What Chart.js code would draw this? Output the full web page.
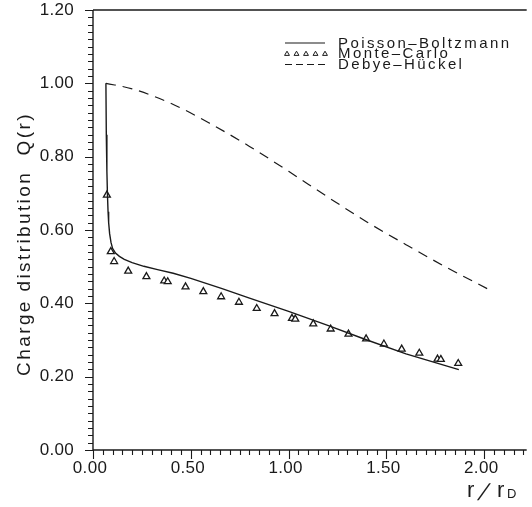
<!DOCTYPE html>
<html>
<head>
<meta charset="utf-8">
<title>Charge distribution Q(r)</title>
<script src="https://cdn.jsdelivr.net/npm/chart.js@4.4.1/dist/chart.umd.min.js"></script>
<style>
  html, body { margin: 0; padding: 0; background: #fff; overflow: hidden; }
  canvas { display: block; }
</style>
</head>
<body>
<canvas id="chart" width="532" height="507"></canvas>
<script>
// ---- data ----
const seriesNames = ['Poisson–Boltzmann', 'Monte–Carlo', 'Debye–Hückel'];

// Poisson-Boltzmann (solid line)
const pbR = [0.066, 0.068, 0.071, 0.074, 0.077, 0.080, 0.085, 0.092, 0.100, 0.115, 0.135, 0.160, 0.200, 0.260, 0.330, 0.410, 0.500, 0.660, 0.800, 1.000, 1.200, 1.390, 1.600, 1.870];
const pbQ = [1.000, 0.860, 0.760, 0.695, 0.650, 0.620, 0.590, 0.566, 0.550, 0.537, 0.528, 0.520, 0.511, 0.501, 0.492, 0.482, 0.468, 0.440, 0.414, 0.378, 0.340, 0.302, 0.262, 0.219];

// Monte-Carlo (triangles)
const mcR = [0.071, 0.091, 0.108, 0.180, 0.273, 0.364, 0.382, 0.473, 0.564, 0.655, 0.746, 0.837, 0.928, 1.017, 1.034, 1.126, 1.215, 1.306, 1.396, 1.487, 1.578, 1.668, 1.761, 1.778, 1.867];
const mcQ = [0.695, 0.541, 0.514, 0.488, 0.473, 0.461, 0.459, 0.445, 0.432, 0.418, 0.403, 0.386, 0.372, 0.359, 0.357, 0.344, 0.330, 0.316, 0.303, 0.289, 0.275, 0.264, 0.248, 0.247, 0.236];

// Debye-Hückel (dashed line)
const dhR = [0.066, 0.200, 0.400, 0.600, 0.800, 1.000, 1.200, 1.400, 1.600, 1.800, 2.030];
const dhQ = [1.000, 0.985, 0.945, 0.890, 0.828, 0.760, 0.690, 0.622, 0.560, 0.500, 0.436];

// axis ticks
const xTickLabels = ['0.00', '0.50', '1.00', '1.50', '2.00'];
const yTickLabels = ['0.00', '0.20', '0.40', '0.60', '0.80', '1.00', '1.20'];
const xMinorStep = 0.05;
const yMinorStep = 0.02;

const ink = '#1a1a1a';
const fontFamily = '"Liberation Sans", Arial, sans-serif';

function toPoints(xs, ys) {
    return xs.map((x, i) => ({ x: x, y: ys[i] }));
}

// white background
const bgPlugin = {
    id: 'bg',
    beforeDraw(chart) {
        const ctx = chart.ctx;
        ctx.save();
        ctx.fillStyle = '#fff';
        ctx.fillRect(0, 0, chart.width, chart.height);
        ctx.restore();
    }
};

// axes frame, ticks, labels, titles and legend
const framePlugin = {
    id: 'frame',
    afterDraw(chart) {
        const ctx = chart.ctx;
        const xs = chart.scales.x;
        const ys = chart.scales.y;
        const a = chart.chartArea;
        ctx.save();
        ctx.strokeStyle = ink;
        ctx.fillStyle = ink;
        ctx.lineWidth = 1.4;

        // frame: left, bottom, top
        ctx.beginPath();
        ctx.moveTo(a.left, a.top);
        ctx.lineTo(a.left, a.bottom);
        ctx.lineTo(a.right, a.bottom);
        ctx.moveTo(a.left, a.top);
        ctx.lineTo(a.right, a.top);
        ctx.stroke();

        // y ticks
        ctx.lineWidth = 1.1;
        ctx.beginPath();
        const yMax = ys.max;
        for (let i = 0; i * yMinorStep <= yMax + 1e-9; i++) {
            const py = Math.round(ys.getPixelForValue(i * yMinorStep)) + 0.5;
            const len = (i % 10 === 0) ? 8 : 5;
            ctx.moveTo(a.left - len, py);
            ctx.lineTo(a.left, py);
        }
        // x ticks
        const xMax = xs.max;
        for (let i = 0; i * xMinorStep <= xMax + 1e-9; i++) {
            const px = Math.round(xs.getPixelForValue(i * xMinorStep)) + 0.5;
            const len = (i % 10 === 0) ? 9 : 5;
            ctx.moveTo(px, a.bottom);
            ctx.lineTo(px, a.bottom + len);
        }
        ctx.stroke();

        // tick labels
        ctx.font = '17px ' + fontFamily;
        ctx.letterSpacing = '0.3px';
        ctx.textAlign = 'right';
        ctx.textBaseline = 'middle';
        yTickLabels.forEach(t => {
            ctx.fillText(t, a.left - 19, ys.getPixelForValue(parseFloat(t)));
        });
        ctx.textAlign = 'center';
        ctx.textBaseline = 'top';
        xTickLabels.forEach(t => {
            ctx.fillText(t, xs.getPixelForValue(parseFloat(t)) - 3, a.bottom + 10);
        });

        // y title
        ctx.save();
        ctx.translate(25, 244);
        ctx.rotate(-Math.PI / 2);
        ctx.font = '19px ' + fontFamily;
        ctx.letterSpacing = '2.4px';
        ctx.textAlign = 'center';
        ctx.textBaseline = 'middle';
        ctx.fillText('Charge distribution  Q(r)', 0, 0);
        ctx.restore();

        // x title r/r_D
        ctx.letterSpacing = '0px';
        ctx.textAlign = 'left';
        ctx.textBaseline = 'alphabetic';
        ctx.font = '22px ' + fontFamily;
        ctx.fillText('r', 467, 497);
        ctx.save();
        ctx.translate(477, 500);
        ctx.transform(1, 0, -0.45, 1, 0, 0);
        ctx.font = '23px ' + fontFamily;
        ctx.fillText('/', 0, 0);
        ctx.restore();
        ctx.fillText('r', 497, 497);
        ctx.font = '13px ' + fontFamily;
        ctx.fillText('D', 507, 498);

        // legend
        const lx0 = 285, lx1 = 325, tx = 338;
        const rows = [43, 53.5, 64.5];
        ctx.font = '15px ' + fontFamily;
        ctx.letterSpacing = '2.4px';
        ctx.textBaseline = 'middle';
        seriesNames.forEach((name, i) => {
            ctx.fillText(name, tx, rows[i] + 0.5);
        });
        ctx.lineWidth = 1.2;
        ctx.beginPath();
        ctx.moveTo(lx0, rows[0]);
        ctx.lineTo(lx1, rows[0]);
        ctx.stroke();
        ctx.setLineDash([7, 4]);
        ctx.beginPath();
        ctx.moveTo(lx0, rows[2]);
        ctx.lineTo(lx1 + 2, rows[2]);
        ctx.stroke();
        ctx.setLineDash([]);
        ctx.fillStyle = '#fff';
        ctx.lineWidth = 1;
        for (let k = 0; k < 5; k++) {
            Chart.helpers.drawPoint(ctx, {
                pointStyle: 'triangle', radius: 2.8, rotation: 0, borderWidth: 1
            }, lx0 + 2 + k * 9.5, rows[1] + 0.5);
        }
        ctx.restore();
    }
};

new Chart(document.getElementById('chart'), {
    type: 'scatter',
    data: {
        datasets: [
            {
                label: seriesNames[0],
                data: toPoints(pbR, pbQ),
                showLine: true,
                borderColor: ink,
                borderWidth: 1.4,
                pointRadius: 0,
                tension: 0
            },
            {
                label: seriesNames[1],
                data: toPoints(mcR, mcQ),
                showLine: false,
                pointStyle: 'triangle',
                pointRadius: 4,
                pointBorderWidth: 1.3,
                pointBackgroundColor: '#fff',
                pointBorderColor: ink
            },
            {
                label: seriesNames[2],
                data: toPoints(dhR, dhQ),
                showLine: true,
                borderColor: ink,
                borderWidth: 1.2,
                borderDash: [10, 7],
                pointRadius: 0,
                cubicInterpolationMode: 'monotone'
            }
        ]
    },
    options: {
        responsive: false,
        animation: false,
        devicePixelRatio: 1,
        layout: { padding: { left: 93, top: 10, right: 0, bottom: 57 } },
        plugins: {
            legend: { display: false },
            tooltip: { enabled: false }
        },
        scales: {
            x: { type: 'linear', min: 0, max: 2.217, display: false },
            y: { type: 'linear', min: 0, max: 1.2, display: false }
        }
    },
    plugins: [bgPlugin, framePlugin]
});
</script>
</body>
</html>
